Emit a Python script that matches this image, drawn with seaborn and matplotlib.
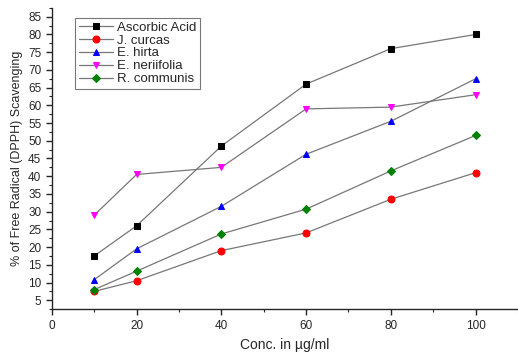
import matplotlib.pyplot as plt
import pandas as pd
import seaborn as sns
from matplotlib.ticker import MultipleLocator

# Data
conc = [10, 20, 40, 60, 80, 100]
ascorbic = [17.5, 26.0, 48.5, 66.0, 76.0, 80.0]
j_curcas = [7.5, 10.5, 19.0, 24.0, 33.5, 41.0]
e_hirta = [10.8, 19.5, 31.5, 46.2, 55.5, 67.5]
e_neriifolia = [29.0, 40.5, 42.5, 59.0, 59.5, 63.0]
r_communis = [8.0, 13.2, 23.7, 30.7, 41.5, 51.5]

series = ['Ascorbic Acid', 'J. curcas', 'E. hirta', 'E. neriifolia', 'R. communis']
values = [ascorbic, j_curcas, e_hirta, e_neriifolia, r_communis]
colors = ['black', 'red', 'blue', 'magenta', 'green']
markers = ['s', 'o', '^', 'v', 'D']

rows = []
for name, vals in zip(series, values):
    for c, v in zip(conc, vals):
        rows.append({'conc': c, 'value': v, 'sample': name})
df = pd.DataFrame(rows)

sns.set_style('ticks')
plt.rcParams['font.family'] = ['Liberation Sans', 'DejaVu Sans']

fig = plt.figure(figsize=(5.18, 3.59), dpi=100)
ax = fig.add_axes([0.1, 0.139, 0.9, 0.839])

for name, col, mk in zip(series, colors, markers):
    sub = df[df['sample'] == name]
    sns.lineplot(data=sub, x='conc', y='value', ax=ax, color='#777777', lw=0.9,
                 marker=mk, markersize=5 if mk != 'D' else 4.3, markerfacecolor=col,
                 markeredgecolor=col, label=name)

ax.set_xlim(0, 110)
ax.set_ylim(2.5, 87.5)
ax.xaxis.set_major_locator(MultipleLocator(20))
ax.xaxis.set_minor_locator(MultipleLocator(10))
ax.yaxis.set_major_locator(MultipleLocator(5))
ax.yaxis.set_minor_locator(MultipleLocator(2.5))
ax.tick_params(which='major', labelsize=8.5, length=4, width=1, direction='out')
ax.tick_params(which='minor', length=2, width=0.8, direction='out')
for s in ['left', 'bottom']:
    ax.spines[s].set_linewidth(1.0)
sns.despine(ax=ax)

ax.set_xlabel('Conc. in µg/ml', fontsize=10, labelpad=5)
ax.set_ylabel('% of Free Radical (DPPH) Scavenging', fontsize=9)

leg = ax.legend(loc='upper left', bbox_to_anchor=(0.035, 0.99), fontsize=9.5,
                frameon=True, fancybox=False, edgecolor='#555555',
                handlelength=2.6, borderpad=0.3, labelspacing=0.05, handletextpad=0.3)
leg.get_frame().set_linewidth(0.8)

fig.savefig('out.png', dpi=100)
